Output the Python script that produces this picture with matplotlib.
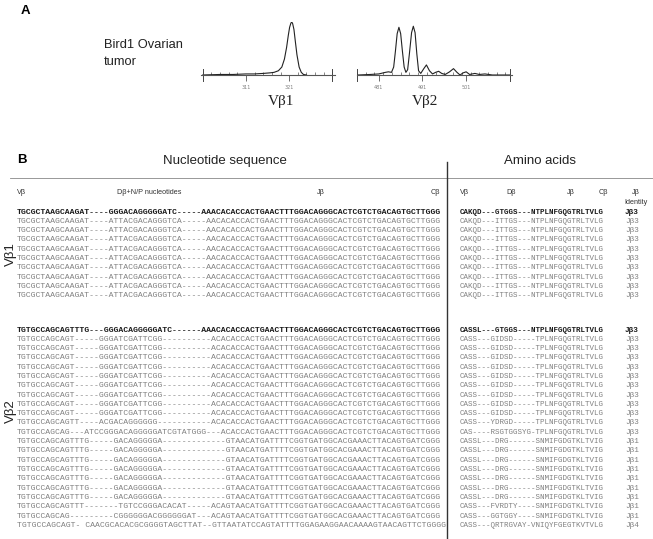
import numpy as np
import matplotlib.pyplot as plt

# ---- panel A: spectratype traces (size units, relative signal) ----
vb1_size = [301, 305, 308, 311, 313, 315, 316.5, 317.5, 318.5, 319.3, 319.9, 320.4,
            320.8, 321.1, 321.4, 321.6, 321.8, 322.1, 322.4, 322.8, 323.3, 323.8,
            324.3, 325]
vb1_signal = [0, 0.01, 0.01, 0.02, 0.02, 0.03, 0.04, 0.05, 0.08, 0.15, 0.30, 0.52,
              0.75, 0.90, 0.98, 1.0, 0.97, 0.86, 0.65, 0.38, 0.15, 0.05, 0.01, 0]
vb2_size = [476.3, 479, 481, 482.5, 483.2, 483.9, 484.4, 484.8, 485.2, 485.6, 486.0,
            486.4, 486.8, 487.2, 487.6, 488.0, 488.5, 488.9, 489.3, 489.7, 490.1,
            490.6, 491.3, 491.9, 492.6, 493.3, 494.0, 494.7, 495.4, 496.2, 497.2,
            498.1, 498.9, 499.6, 500.3, 501.0, 501.8, 503.0, 504.0, 505.3, 507.0, 511.0]
vb2_signal = [0.0, 0.01, 0.02, 0.05, 0.06, 0.05, 0.15, 0.45, 0.78, 0.90, 0.78,
              0.45, 0.15, 0.05, 0.10, 0.40, 0.80, 0.92, 0.80, 0.40, 0.08,
              0.03, 0.12, 0.19, 0.08, 0.02, 0.05, 0.07, 0.03, 0.01, 0.06,
              0.12, 0.05, 0.0, 0.04, 0.06, 0.01, 0.03, 0.01, 0.02, 0.0, 0.0]
vb1_ticks = [311, 321]
vb2_ticks = [481, 491, 501]

# ---- panel B: sequences ----
nt_header = ['Vβ', 'Dβ+N/P nucleotides', 'Jβ', 'Cβ']
aa_header = ['Vβ', 'Dβ', 'Jβ', 'Cβ']

vb1_nt = (["TGCGCTAAGCAAGAT----GGGACAGGGGGATC-----AAACACACCACTGAACTTTGGACAGGGCACTCGTCTGACAGTGCTTGGG"]
          + ["TGCGCTAAGCAAGAT----ATTACGACAGGGTCA-----AACACACCACTGAACTTTGGACAGGGCACTCGTCTGACAGTGCTTGGG"] * 9)
vb1_aa = ["CAKQD---GTGGS---NTPLNFGQGTRLTVLG"] + ["CAKQD---ITTGS---NTPLNFGQGTRLTVLG"] * 9
vb1_jb = ["Jβ3"] * 10

vb2_nt = (["TGTGCCAGCAGTTTG---GGGACAGGGGGATC------AAACACACCACTGAACTTTGGACAGGGCACTCGTCTGACAGTGCTTGGG"]
          + ["TGTGCCAGCAGT-----GGGATCGATTCGG----------ACACACCACTGAACTTTGGACAGGGCACTCGTCTGACAGTGCTTGGG"] * 9
          + ["TGTGCCAGCAGTT----ACGACAGGGGGG-----------ACACACCACTGAACTTTGGACAGGGCACTCGTCTGACAGTGCTTGGG",
             "TGTGCCAGCAG---ATCCGGGACAGGGGGATCGTATGGG---ACACCACTGAACTTTGGACAGGGCACTCGTCTGACAGTGCTTGGG"]
          + ["TGTGCCAGCAGTTTG-----GACAGGGGGA-------------GTAACATGATTTTCGGTGATGGCACGAAACTTACAGTGATCGGG"] * 7
          + ["TGTGCCAGCAGTTT-------TGTCCGGGACACAT-----ACAGTAACATGATTTTCGGTGATGGCACGAAACTTACAGTGATCGGG",
             "TGTGCCAGCAG---------CGGGGGGACGGGGGGAT---ACAGTAACATGATTTTCGGTGATGGCACGAAACTTACAGTGATCGGG",
             "TGTGCCAGCAGT- CAACGCACACGCGGGGTAGCTTAT--GTTAATATCCAGTATTTTGGAGAAGGAACAAAAGTAACAGTTCTGGGG"])
vb2_aa = (["CASSL---GTGGS---NTPLNFGQGTRLTVLG"]
          + ["CASS---GIDSD-----TPLNFGQGTRLTVLG"] * 9
          + ["CASS---YDRGD-----TPLNFGQGTRLTVLG",
             "CAS----RSGTGGSYG-TPLNFGQGTRLTVLG"]
          + ["CASSL---DRG------SNMIFGDGTKLTVIG"] * 7
          + ["CASS---FVRDTY----SNMIFGDGTKLTVIG",
             "CASS---GGTGGY----SNMIFGDGTKLTVIG",
             "CASS---QRTRGVAY-VNIQYFGEGTKVTVLG"])
vb2_jb = ["Jβ3"] * 12 + ["Jβ1"] * 9 + ["Jβ4"]

W, H = 653, 539
fig = plt.figure(figsize=(W / 100, H / 100), dpi=100)
ax = fig.add_axes([0, 0, 1, 1])
ax.set_xlim(0, W)
ax.set_ylim(H, 0)
ax.axis('off')

SANS = 'Liberation Sans'
MONO = 'Liberation Mono'
GRAY = '#808080'


# spectratype inset in pixel box
def trace_axes(x0, x1, y_top, y_base, size, signal, ticks, lim, label, lab_x):
    a = fig.add_axes([x0 / W, 1 - y_base / H, (x1 - x0) / W, (y_base - y_top) / H])
    a.plot(size, signal, color='#222222', lw=0.8)
    a.set_xlim(*lim)
    a.set_ylim(0, 1)
    a.patch.set_alpha(0)
    for s in ['top', 'right', 'left']:
        a.spines[s].set_visible(False)
    a.spines['bottom'].set_color('#555555')
    a.spines['bottom'].set_linewidth(0.8)
    a.set_yticks([])
    a.set_xticks(ticks)
    a.set_xticks(np.arange(np.ceil(lim[0]), lim[1], 2), minor=True)
    a.tick_params(axis='x', which='major', direction='out', length=4, width=0.6,
                  color='#555555', labelsize=3.5, labelcolor=GRAY, pad=3)
    a.tick_params(axis='x', which='minor', direction='in', length=2.5, width=0.5,
                  color='#555555')
    for xe in (np.ceil(lim[0]), np.floor(lim[1])):
        a.plot([xe, xe], [-0.12, 0.12], color='#444444', lw=0.7, clip_on=False)
    ax.text(lab_x, 102, label, fontsize=11, family='Liberation Serif',
            ha='center', va='center', color='#222222')


ax.text(21, 11, 'A', fontsize=9.5, fontweight='bold', family=SANS, va='center')
ax.text(104, 45, 'Bird1 Ovarian', fontsize=9.3, family=SANS, va='center', color='#222222')
ax.text(104, 62, 'tumor', fontsize=9.3, family=SANS, va='center', color='#222222')
trace_axes(201, 335, 22, 75, vb1_size, vb1_signal, vb1_ticks, (300.6, 331.6), 'Vβ1', 281)
trace_axes(357, 512, 22, 75, vb2_size, vb2_signal, vb2_ticks, (476.0, 511.5), 'Vβ2', 425)

# ---- panel B ----
ax.text(17, 160, 'B', fontsize=9.5, fontweight='bold', family=SANS, va='center')
ax.text(225, 161, 'Nucleotide sequence', fontsize=9.5, family=SANS, ha='center',
        va='center', color='#222222')
ax.text(540, 161, 'Amino acids', fontsize=9.5, family=SANS, ha='center',
        va='center', color='#222222')
ax.plot([10, W], [178, 178], color='#888888', lw=0.6)
ax.plot([447, 447], [162, H], color='#333333', lw=1.0)

hdr_y = 193
for txt, x in zip(nt_header, [17, 117, 317, 431]):
    ax.text(x, hdr_y, txt, fontsize=5.2, family=SANS, va='center', color='#333333')
for txt, x in zip(aa_header, [460, 506, 567, 599]):
    ax.text(x, hdr_y, txt, fontsize=5.2, family=SANS, va='center', color='#333333')
ax.text(636, hdr_y, 'Jβ', fontsize=5.2, family=SANS, ha='center', va='center', color='#333333')
ax.text(636, 202, 'Identity', fontsize=5.2, family=SANS, ha='center', va='center', color='#333333')

step = 9.3
blocks = [(212, vb1_nt, vb1_aa, vb1_jb, 'Vβ1'), (330, vb2_nt, vb2_aa, vb2_jb, 'Vβ2')]
for y0, nts, aas, jbs, lab in blocks:
    for i, (nt, aa, jb) in enumerate(zip(nts, aas, jbs)):
        y = y0 + i * step
        bold = i == 0
        col = '#1a1a1a' if bold else GRAY
        fw = 'bold' if bold else 'normal'
        ax.text(17, y, nt, fontsize=5.88, family=MONO, fontweight=fw, color=col, va='center')
        ax.text(460, y, aa, fontsize=5.44, family=MONO, fontweight=fw, color=col, va='center')
        ax.text(625, y, jb, fontsize=5.6, family=MONO, fontweight=fw, color=col, va='center')
    mid = y0 + (len(nts) - 1) * step / 2
    ax.text(11, mid if lab == 'Vβ1' else mid - 17, lab, fontsize=9.5, family=SANS,
            rotation=90, ha='center', va='center', color='#222222')

fig.savefig('out.png', dpi=100)
